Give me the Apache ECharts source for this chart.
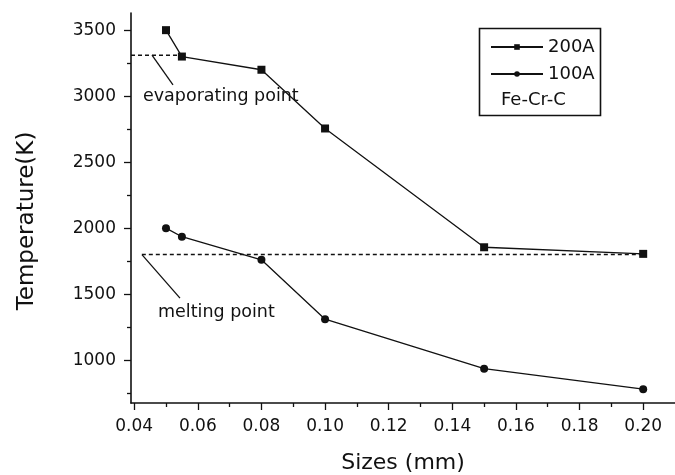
<!DOCTYPE html>
<html>
<head>
<meta charset="utf-8">
<script src="https://cdn.jsdelivr.net/npm/echarts@6/dist/echarts.min.js"></script>
<style>
  html, body { margin: 0; padding: 0; background: #fff; }
  #chart { width: 675px; height: 475px; }
</style>
</head>
<body>
<div id="chart"></div>
<script>
// sizes in mm
const sizes = [0.05, 0.055, 0.08, 0.10, 0.15, 0.20];
const temp200A = [3500, 3300, 3200, 2755, 1855, 1805];
const temp100A = [2000, 1935, 1760, 1310, 935, 780];

const xTicks = [0.04, 0.06, 0.08, 0.10, 0.12, 0.14, 0.16, 0.18, 0.20];
const xMinorTicks = [0.05, 0.07, 0.09, 0.11, 0.13, 0.15, 0.17, 0.19];
const yTicks = [1000, 1500, 2000, 2500, 3000, 3500];
const yMinorTicks = [750, 1250, 1750, 2250, 2750, 3250];

// reference lines [x, y]
const evapLine = [[0.039, 3310], [0.055, 3310]];
const meltLine = [[0.0424, 1800], [0.20, 1800]];
// leader lines for the notes
const evapLeader = [[0.0456, 3311], [0.0522, 3085]];
const meltLeader = [[0.0425, 1797], [0.0544, 1470]];

const FONT = 'DejaVu Sans';
const INK = '#111';
const chart = echarts.init(document.getElementById('chart'));

function pairs(xs, ys) {
    return xs.map((x, i) => [x, ys[i]]);
}

const xRange = { min: 0.039, max: 0.21 };
const yRange = { min: 675, max: 3630 };

function plainLine(data, type) {
    return {
        type: 'line', data: data, symbol: 'none', silent: true,
        lineStyle: { color: INK, width: 1.3, type: type || 'solid' }
    };
}

const options = {
    animation: false,
    grid: { left: 131, right: 0, top: 13, bottom: 72, containLabel: false, outerBoundsMode: 'none' },
    textStyle: { fontFamily: FONT, color: INK },
    xAxis: [{
        type: 'value',
        min: xRange.min,
        max: xRange.max,
        name: 'Sizes (mm)',
        nameLocation: 'middle',
        nameGap: 49,
        nameTextStyle: { fontSize: 22, color: INK, fontFamily: FONT },
        splitLine: { show: false },
        axisLine: { lineStyle: { color: INK, width: 1.6 } },
        axisTick: { customValues: xTicks, length: 7, lineStyle: { color: INK, width: 1.3 } },
        axisLabel: {
            customValues: xTicks,
            formatter: v => v.toFixed(2),
            fontSize: 17, color: INK, margin: 15, fontFamily: FONT
        }
    }, {
        type: 'value',
        min: xRange.min,
        max: xRange.max,
        position: 'bottom',
        splitLine: { show: false },
        axisLine: { show: false },
        axisTick: { customValues: xMinorTicks, length: 4, lineStyle: { color: INK, width: 1.3 } },
        axisLabel: { show: false }
    }],
    yAxis: [{
        type: 'value',
        min: yRange.min,
        max: yRange.max,
        splitLine: { show: false },
        axisLine: { show: true, lineStyle: { color: INK, width: 1.6 } },
        axisTick: { show: true, customValues: yTicks, length: 7, lineStyle: { color: INK, width: 1.3 } },
        axisLabel: {
            customValues: yTicks,
            formatter: v => String(v),
            fontSize: 17, color: INK, margin: 15, fontFamily: FONT
        }
    }, {
        type: 'value',
        min: yRange.min,
        max: yRange.max,
        position: 'left',
        splitLine: { show: false },
        axisLine: { show: false },
        axisTick: { show: true, customValues: yMinorTicks, length: 4, lineStyle: { color: INK, width: 1.3 } },
        axisLabel: { show: false }
    }],
    legend: {
        orient: 'vertical',
        left: 485,
        top: 33,
        itemWidth: 52,
        itemHeight: 7,
        itemGap: 9,
        textStyle: { fontSize: 18, color: INK, fontFamily: FONT },
        data: ['200A', '100A']
    },
    graphic: [
        { type: 'rect', shape: { x: 479.5, y: 28.5, width: 121, height: 87 },
          style: { fill: 'none', stroke: INK, lineWidth: 1.6 } },
        { type: 'text', x: 501, y: 100,
          style: { text: 'Fe-Cr-C', font: '18px ' + FONT, fill: INK, verticalAlign: 'middle' } },
        { type: 'text', x: 143, y: 96,
          style: { text: 'evaporating point', font: '17.5px ' + FONT, fill: INK, verticalAlign: 'middle' } },
        { type: 'text', x: 158, y: 312,
          style: { text: 'melting point', font: '17.5px ' + FONT, fill: INK, verticalAlign: 'middle' } },
        { type: 'text', x: 27, y: 221, rotation: Math.PI / 2,
          style: { text: 'Temperature(K)', font: '23px ' + FONT, fill: INK, align: 'center', verticalAlign: 'middle' } }
    ],
    series: [
        {
            name: '200A', type: 'line', data: pairs(sizes, temp200A),
            symbol: 'rect', symbolSize: 8, showAllSymbol: true,
            itemStyle: { color: INK }, lineStyle: { color: INK, width: 1.3 }
        },
        {
            name: '100A', type: 'line', data: pairs(sizes, temp100A),
            symbol: 'circle', symbolSize: 8, showAllSymbol: true,
            itemStyle: { color: INK }, lineStyle: { color: INK, width: 1.3 }
        },
        plainLine(evapLine, [4, 3]),
        plainLine(meltLine, [4, 3]),
        plainLine(evapLeader),
        plainLine(meltLeader)
    ]
};
chart.setOption(options, true);
</script>
</body>
</html>
